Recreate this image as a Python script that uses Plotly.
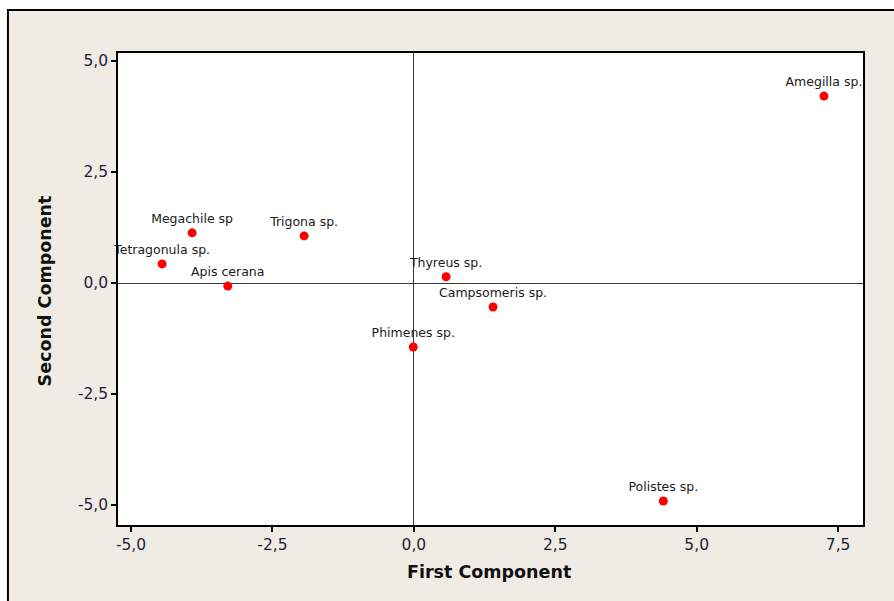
import plotly.graph_objects as go

# Principal component scores of the visiting species
species = ["Amegilla sp.", "Polistes sp.", "Megachile sp", "Trigona sp.",
           "Tetragonula sp.", "Apis cerana", "Thyreus sp.", "Campsomeris sp.",
           "Phimenes sp."]
first_comp = [7.25, 4.41, -3.92, -1.94, -4.45, -3.29, 0.57, 1.40, -0.01]
second_comp = [4.21, -4.91, 1.13, 1.06, 0.43, -0.07, 0.14, -0.54, -1.44]

x_tick_vals = [-5.0, -2.5, 0.0, 2.5, 5.0, 7.5]
x_tick_text = ["-5,0", "-2,5", "0,0", "2,5", "5,0", "7,5"]
y_tick_vals = [-5.0, -2.5, 0.0, 2.5, 5.0]
y_tick_text = ["-5,0", "-2,5", "0,0", "2,5", "5,0"]

BEIGE = "#f0ece5"
TICK_COLOR = "#1e1e38"

fig = go.Figure()
fig.add_trace(go.Scatter(
    x=first_comp, y=second_comp, mode="markers+text",
    text=species, textposition="top center",
    textfont=dict(family="DejaVu Sans", size=12.5, color="#1a1a1a"),
    marker=dict(color="#ff0000", size=9),
    cliponaxis=False, hoverinfo="skip",
))

# Page frame: beige panel with a black border on the left and top
fig.add_shape(type="rect", xref="paper", yref="paper",
              x0=-0.1477, x1=1.2, y0=-0.3, y1=1.0911,
              fillcolor=BEIGE, line=dict(width=0), layer="below")
fig.add_shape(type="rect", xref="paper", yref="paper",
              x0=0, x1=1, y0=0, y1=1,
              fillcolor="white", line=dict(width=0), layer="below")
fig.add_shape(type="path", xref="paper", yref="paper",
              path="M -0.1477,-0.3 L -0.1477,1.0911 L 1.2,1.0911",
              line=dict(color="black", width=2), layer="above")

fig.add_annotation(text="<b>First Component</b>", xref="paper", yref="paper",
                   x=0.498, y=-0.0996, xanchor="center", yanchor="middle",
                   showarrow=False,
                   font=dict(family="DejaVu Sans", size=17.5, color="#111111"))
fig.add_annotation(text="<b>Second Component</b>", xref="paper", yref="paper",
                   x=-0.098, y=0.497, xanchor="center", yanchor="middle",
                   textangle=-90, showarrow=False,
                   font=dict(family="DejaVu Sans", size=17.5, color="#111111"))

axis_common = dict(
    showgrid=False, zeroline=True, zerolinecolor="#3a3a3a", zerolinewidth=1,
    showline=True, mirror=True, linecolor="black", linewidth=1.5,
    ticks="outside", ticklen=5, tickwidth=1.5, tickcolor="black",
    tickfont=dict(family="DejaVu Sans", size=15.5, color=TICK_COLOR),
)

fig.update_xaxes(range=[-5.23, 7.94], tickvals=x_tick_vals,
                 ticktext=x_tick_text, **axis_common)
fig.update_yaxes(range=[-5.45, 5.18], tickvals=y_tick_vals,
                 ticktext=y_tick_text, **axis_common)

fig.update_layout(
    width=894, height=601,
    margin=dict(l=118, r=31, t=53, b=76),
    paper_bgcolor="white", plot_bgcolor="white",
    showlegend=False,
)

fig.write_html("out.html")
